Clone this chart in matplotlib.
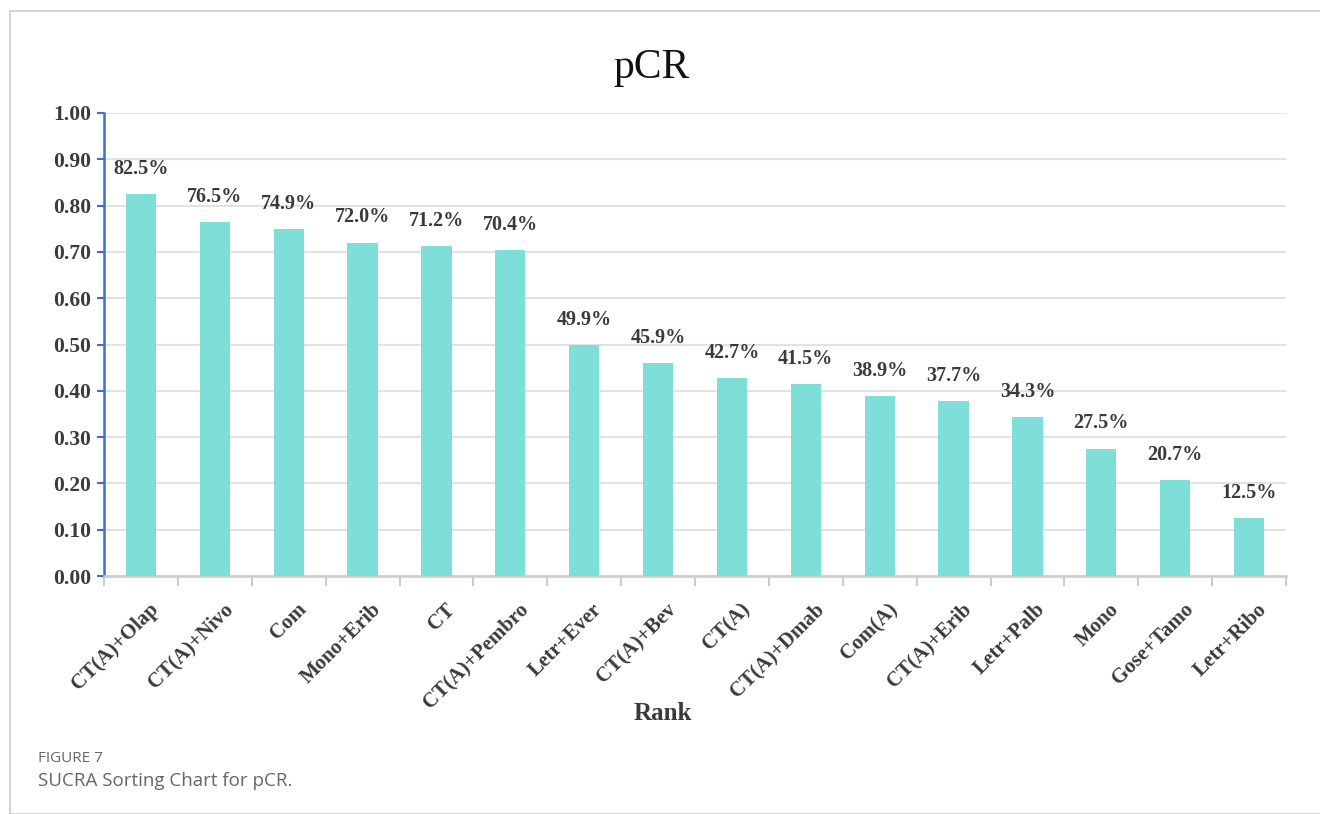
import matplotlib
matplotlib.use("Agg")
import matplotlib.pyplot as plt
import matplotlib.transforms as mtrans
from matplotlib.patches import Rectangle

categories = ["CT(A)+Olap", "CT(A)+Nivo", "Com", "Mono+Erib", "CT", "CT(A)+Pembro",
              "Letr+Ever", "CT(A)+Bev", "CT(A)", "CT(A)+Dmab", "Com(A)", "CT(A)+Erib",
              "Letr+Palb", "Mono", "Gose+Tamo", "Letr+Ribo"]
values = [0.825, 0.765, 0.749, 0.720, 0.712, 0.704, 0.499, 0.459, 0.427, 0.415,
          0.389, 0.377, 0.343, 0.275, 0.207, 0.125]
yticks = [0.0, 0.1, 0.2, 0.3, 0.4, 0.5, 0.6, 0.7, 0.8, 0.9, 1.0]

W, H = 1320, 814
fig = plt.figure(figsize=(W / 100, H / 100), dpi=100)
fig.patches.append(Rectangle((10 / W, 0), 1.2, 1 - 11 / H, transform=fig.transFigure,
                             fill=False, edgecolor="#cccccc", linewidth=1.2))

ax = fig.add_axes([104 / W, 1 - 576 / H, (1286 - 104) / W, (576 - 113) / H])
serif = "Liberation Serif"
txtc = "#3a3a3a"

x = list(range(len(categories)))
ax.bar(x, values, width=0.41, color="#7edfd8", zorder=3)
for xi, v in zip(x, values):
    ax.annotate(f"{v*100:.1f}%", (xi, v), xytext=(0, 11), textcoords="offset points",
                ha="center", va="bottom", fontsize=14.5, fontweight="bold",
                family=serif, color=txtc)

ax.set_xlim(-0.5, len(categories) - 0.5)
ax.set_ylim(0, 1.0)
ax.set_yticks(yticks)
ax.set_yticklabels([f"{t:.2f}" for t in yticks], fontsize=15.5, fontweight="bold",
                   family=serif, color=txtc)
ax.yaxis.grid(True, color="#e2e2e2", linewidth=1.5, zorder=0)
ax.set_axisbelow(True)

ax.set_xticks(x)
ax.set_xticklabels(categories, rotation=45, ha="right", rotation_mode="anchor",
                   fontsize=15, fontweight="bold", family=serif, color=txtc)
ax.tick_params(axis="x", length=0, pad=17)
ax.set_xticks([i - 0.5 for i in range(len(categories) + 1)], minor=True)
ax.tick_params(axis="x", which="minor", length=7, color="#cccccc", width=1.5)
ax.tick_params(axis="y", length=5, color="#3b6fd6", width=1.5, pad=4)

offset = mtrans.ScaledTranslation(8 / 100, 0, fig.dpi_scale_trans)
for lab in ax.get_xticklabels():
    lab.set_transform(lab.get_transform() + offset)

for s in ["top", "right"]:
    ax.spines[s].set_visible(False)
ax.spines["left"].set_color("#3b6fd6")
ax.spines["left"].set_linewidth(1.8)
ax.spines["bottom"].set_color("#cccccc")
ax.spines["bottom"].set_linewidth(1.8)

fig.text(652 / W, 1 - 68 / H, "pCR", ha="center", va="center", fontsize=30,
         family=serif, color="#111111")
fig.text(663 / W, 1 - 714 / H, "Rank", ha="center", va="center", fontsize=18,
         fontweight="bold", family=serif, color=txtc)
fig.text(38 / W, 1 - 758 / H, "FIGURE 7", ha="left", va="center", fontsize=11,
         family="Open Sans", color="#666666")
fig.text(38 / W, 1 - 781 / H, "SUCRA Sorting Chart for pCR.", ha="left", va="center",
         fontsize=13.5, family="Open Sans", color="#666666")

fig.savefig("out.png", dpi=100)
